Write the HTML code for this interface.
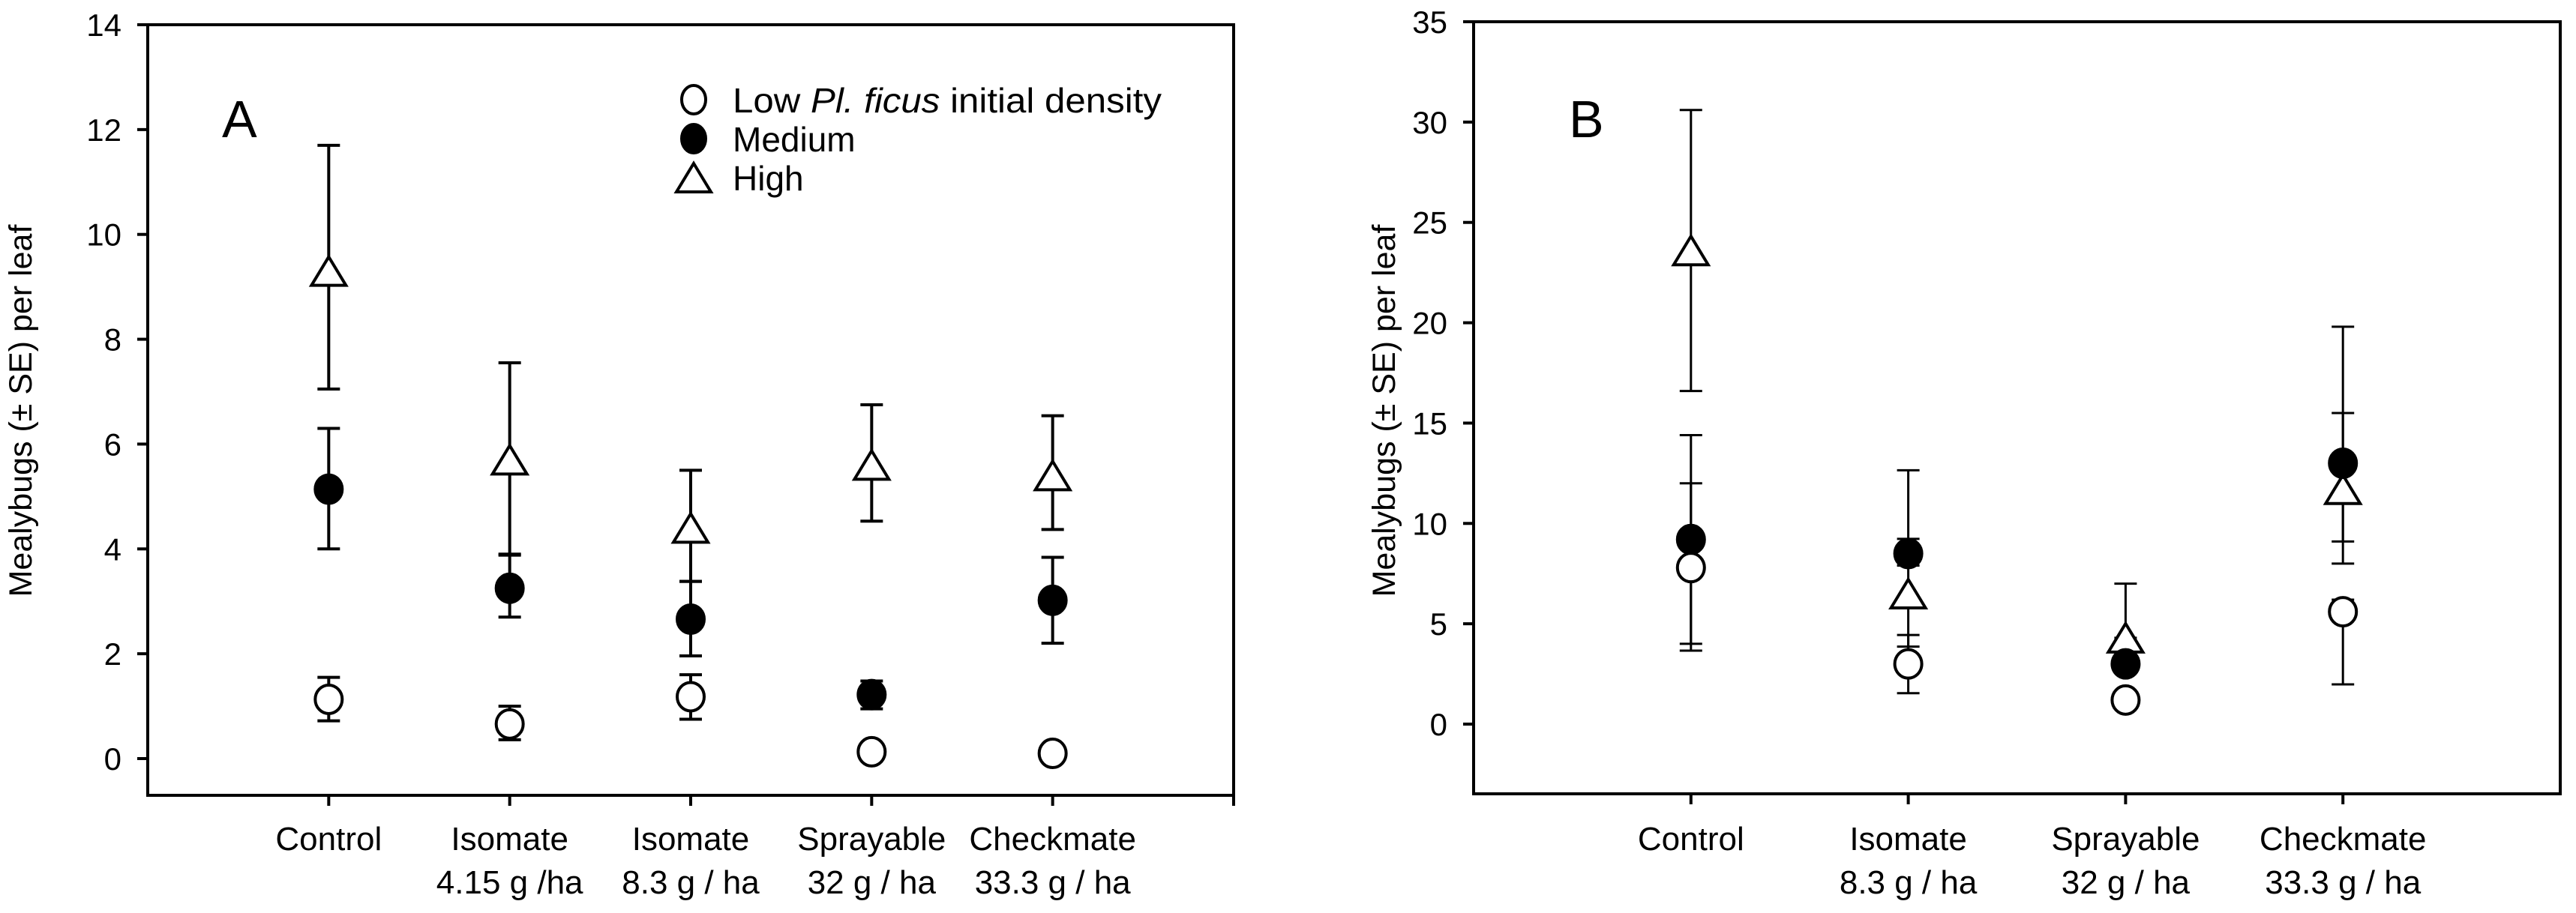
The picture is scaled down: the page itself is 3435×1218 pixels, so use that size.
<!DOCTYPE html>
<html><head><meta charset="utf-8"><style>
html,body{margin:0;padding:0;background:#fff;}
svg{display:block;font-family:"Liberation Sans",Arial,sans-serif;}
</style></head><body>
<svg id="chart" xmlns="http://www.w3.org/2000/svg" width="3435" height="1218" viewBox="0 0 3435 1218"></svg>
<script>
// ---- Panel A data ----
const catsA = [["Control"],["Isomate","4.15 g /ha"],["Isomate","8.3 g / ha"],["Sprayable","32 g / ha"],["Checkmate","33.3 g / ha"]];
const ticksA = [0,2,4,6,8,10,12,14];
const highA = [9.3,5.7,4.4,5.6,5.4];
const highHiA = [11.7,7.55,5.5,6.75,6.54];
const highLoA = [7.05,3.9,3.38,4.53,4.37];
const medA = [5.14,3.25,2.66,1.22,3.02];
const medHiA = [6.3,3.88,3.38,1.48,3.84];
const medLoA = [4.0,2.7,1.96,0.95,2.2];
const lowA = [1.13,0.66,1.18,0.13,0.1];
const lowHiA = [1.55,1.0,1.6,0.13,0.1];
const lowLoA = [0.72,0.36,0.75,0.13,0.1];
// ---- Panel B data ----
const catsB = [["Control"],["Isomate","8.3 g / ha"],["Sprayable","32 g / ha"],["Checkmate","33.3 g / ha"]];
const ticksB = [0,5,10,15,20,25,30,35];
const highB = [23.6,6.5,4.3,11.7];
const highHiB = [30.6,12.65,7.0,19.8];
const highLoB = [16.6,3.86,4.3,8.0];
const medB = [9.2,8.5,3.0,13.0];
const medHiB = [14.4,9.23,3.0,15.5];
const medLoB = [4.0,7.9,3.0,9.1];
const lowB = [7.8,3.0,1.2,5.6];
const lowHiB = [12.0,4.44,1.2,6.2];
const lowLoB = [3.66,1.54,1.2,1.98];

const NS="http://www.w3.org/2000/svg";
const svg=document.getElementById('chart');
function mk(tag,attrs,parent){const e=document.createElementNS(NS,tag);for(const k in attrs)e.setAttribute(k,attrs[k]);(parent||svg).appendChild(e);return e;}

function panel(cfg){
  const g=mk('g',{});
  
  
  const L=cfg.left,R=cfg.right,T=cfg.top,B=cfg.bottom;
  const y=v=>cfg.y0+(cfg.yTop-cfg.y0)*(v/cfg.yMax);
  const x=i=>L+(R-L)*(i+1)/(cfg.cats.length+1);
  const fr=mk('rect',{x:L,y:T,width:R-L,height:B-T,fill:'none',stroke:'#000','stroke-width':4},g);
  
  
  if(cfg.rightTick){const rt=mk('line',{x1:R,y1:B,x2:R,y2:B+14,stroke:'#000','stroke-width':4},g);
    
    }
  cfg.ticks.forEach(t=>{
    const ty=y(t);
    const tl=mk('line',{x1:L-14,y1:ty,x2:L,y2:ty,stroke:'#000','stroke-width':4},g);
    
    
    const tx=mk('text',{x:L-35,y:ty+15,'font-size':42,'text-anchor':'end'},g);
    tx.textContent=t;
    
    
  });
  cfg.cats.forEach((c,i)=>{
    const cx=x(i);
    const tk=mk('line',{x1:cx,y1:B,x2:cx,y2:B+14,stroke:'#000','stroke-width':4},g);
    
    
    c.forEach((line,j)=>{
      const t=mk('text',{x:cx,y:1134+j*58,'font-size':44,'text-anchor':'middle'},g);
      t.textContent=line;
      
      
    });
  });
  const yt=mk('text',{x:0,y:0,'font-size':43,'text-anchor':'middle',transform:`translate(${cfg.titleX},548) rotate(-90)`},g);
  yt.textContent='Mealybugs (\u00b1 SE) per leaf';
  
  
  const pl=mk('text',{x:cfg.letterX,y:183,'font-size':70},g);
  pl.textContent=cfg.letter;
  
  
  const series=[
    {n:'high',v:cfg.high,hi:cfg.highHi,lo:cfg.highLo},
    {n:'medium',v:cfg.med,hi:cfg.medHi,lo:cfg.medLo},
    {n:'low',v:cfg.low,hi:cfg.lowHi,lo:cfg.lowLo}];
  series.forEach(s=>{
    s.v.forEach((v,i)=>{
      const cx=x(i);
      const eb=mk('path',{d:`M${cx},${y(s.hi[i])}V${y(s.lo[i])}M${cx-15},${y(s.hi[i])}h30M${cx-15},${y(s.lo[i])}h30`,stroke:'#000','stroke-width':cfg.ew,fill:'none'},g);
      
      
    });
  });
  series.forEach(s=>{
    s.v.forEach((v,i)=>{
      const cx=x(i),cy=y(v);
      let m;
      if(s.n==='high'){
        m=mk('path',{d:`M${cx},${cy-19}L${cx+23},${cy+19}L${cx-23},${cy+19}Z`,fill:'#fff',stroke:'#000','stroke-width':4},g);
      }else{
        m=mk('ellipse',{cx:cx,cy:cy,rx:18,ry:19,fill:s.n==='medium'?'#000':'#fff',stroke:'#000','stroke-width':4},g);
      }
      
      
    });
  });
  return g;
}

panel({name:'panel-a',left:197,right:1645,top:33,bottom:1061,y0:1012,yTop:33,yMax:14,
  cats:catsA,ticks:ticksA,titleX:42,letter:'A',letterX:296,ew:4,rightTick:true,
  high:highA,highHi:highHiA,highLo:highLoA,med:medA,medHi:medHiA,medLo:medLoA,low:lowA,lowHi:lowHiA,lowLo:lowLoA});
panel({name:'panel-b',left:1965,right:3414,top:29,bottom:1059,y0:966,yTop:29,yMax:35,
  cats:catsB,ticks:ticksB,titleX:1860,letter:'B',letterX:2092,ew:3,rightTick:false,
  high:highB,highHi:highHiB,highLo:highLoB,med:medB,medHi:medHiB,medLo:medLoB,low:lowB,lowHi:lowHiB,lowLo:lowLoB});

// legend
const lg=mk('g',{});


const e1=mk('ellipse',{cx:925,cy:133,rx:16,ry:19,fill:'#fff',stroke:'#000','stroke-width':4},lg);


const e2=mk('ellipse',{cx:925,cy:185,rx:16,ry:19,fill:'#000',stroke:'#000','stroke-width':4},lg);


const e3=mk('path',{d:'M925,218L948,256L902,256Z',fill:'#fff',stroke:'#000','stroke-width':4},lg);


const t1=mk('text',{x:977,y:150,'font-size':46,textLength:572,lengthAdjust:'spacingAndGlyphs'},lg);
t1.innerHTML='Low <tspan font-style="italic">Pl. ficus</tspan> initial density';


const t2=mk('text',{x:977,y:202,'font-size':46},lg);
t2.textContent='Medium';


const t3=mk('text',{x:977,y:254,'font-size':46},lg);
t3.textContent='High';


</script>
</body></html>
